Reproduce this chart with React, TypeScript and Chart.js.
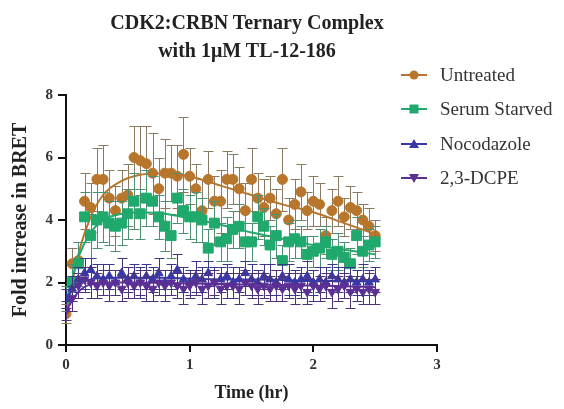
import React, { useEffect, useRef } from "react";
import { Chart, registerables } from "chart.js";

Chart.register(...registerables);

// ---------- data ----------
const timeHr = [
  0, 0.05, 0.1, 0.15, 0.2, 0.25, 0.3, 0.35, 0.4, 0.45,
  0.5, 0.55, 0.6, 0.65, 0.7, 0.75, 0.8, 0.85, 0.9, 0.95,
  1.0, 1.05, 1.1, 1.15, 1.2, 1.25, 1.3, 1.35, 1.4, 1.45,
  1.5, 1.55, 1.6, 1.65, 1.7, 1.75, 1.8, 1.85, 1.9, 1.95,
  2.0, 2.05, 2.1, 2.15, 2.2, 2.25, 2.3, 2.35, 2.4, 2.45, 2.5,
];

const untreated = [
  1.0, 2.6, 2.7, 4.6, 4.4, 5.3, 5.3, 4.7, 4.3, 4.7,
  4.8, 6.0, 5.9, 5.8, 5.5, 5.0, 5.5, 5.5, 5.4, 6.1,
  5.4, 5.0, 4.3, 5.3, 4.6, 4.6, 5.3, 5.3, 5.0, 4.3,
  5.3, 4.7, 4.4, 4.7, 4.2, 5.3, 4.0, 4.5, 4.9, 4.3,
  4.6, 4.5, 3.5, 4.3, 4.6, 4.1, 4.4, 4.3, 4.0, 3.8, 3.5,
];
const untreatedErr = [
  0.3, 0.5, 0.6, 0.9, 0.8, 1.0, 1.1, 0.9, 0.8, 0.9,
  1.0, 1.0, 1.1, 1.2, 1.3, 1.0, 1.1, 0.9, 1.0, 1.2,
  0.9, 0.8, 1.0, 0.9, 0.8, 1.0, 0.9, 0.8, 0.7, 0.9,
  1.0, 0.8, 0.9, 0.7, 0.8, 1.0, 0.7, 0.8, 0.9, 0.6,
  0.8, 0.7, 0.6, 0.7, 0.8, 0.6, 0.7, 0.6, 0.5, 0.6, 0.5,
];

const serumStarved = [
  1.5, 2.0, 2.6, 4.1, 3.5, 4.0, 4.1, 3.9, 3.8, 3.9,
  4.2, 4.6, 4.2, 4.7, 4.6, 4.1, 3.8, 3.5, 4.7, 4.3,
  4.1, 4.1, 4.0, 3.1, 3.9, 3.3, 3.4, 3.7, 3.8, 3.3,
  3.3, 4.1, 3.8, 3.2, 3.5, 2.7, 3.3, 3.4, 3.3, 2.9,
  3.0, 3.1, 3.3, 2.9, 3.0, 2.8, 2.6, 3.5, 3.0, 3.2, 3.3,
];
const serumStarvedErr = [
  0.4, 0.6, 0.7, 0.8, 0.7, 0.9, 0.8, 0.7, 0.8, 0.7,
  0.8, 0.9, 0.8, 0.9, 0.8, 0.7, 0.8, 0.7, 0.8, 0.7,
  0.7, 0.8, 0.7, 0.6, 0.7, 0.6, 0.7, 0.6, 0.7, 0.6,
  0.6, 0.7, 0.6, 0.6, 0.7, 0.5, 0.6, 0.6, 0.5, 0.6,
  0.5, 0.6, 0.5, 0.5, 0.6, 0.5, 0.5, 0.6, 0.5, 0.5, 0.5,
];

const nocodazole = [
  1.5, 1.8, 2.1, 2.3, 2.4, 2.2, 2.1, 2.2, 2.0, 2.3,
  2.1, 2.2, 2.0, 2.2, 2.1, 2.3, 2.0, 2.2, 2.4, 2.1,
  2.0, 2.2, 2.1, 2.3, 2.0, 2.1, 2.2, 2.0, 2.1, 2.3,
  2.1, 2.0, 2.2, 2.1, 2.0, 2.2, 2.1, 2.0, 2.1, 2.2,
  2.0, 2.1, 2.0, 2.2, 2.1, 2.0, 2.1, 2.0, 2.1, 2.0, 2.1,
];
const nocodazoleErr = [
  0.3, 0.4, 0.4, 0.5, 0.4, 0.4, 0.5, 0.4, 0.4, 0.5,
  0.4, 0.4, 0.5, 0.4, 0.4, 0.5, 0.4, 0.4, 0.5, 0.4,
  0.4, 0.5, 0.4, 0.4, 0.5, 0.4, 0.4, 0.5, 0.4, 0.4,
  0.5, 0.4, 0.4, 0.5, 0.4, 0.4, 0.5, 0.4, 0.4, 0.5,
  0.4, 0.4, 0.5, 0.4, 0.4, 0.5, 0.4, 0.4, 0.5, 0.4, 0.4,
];

const dcpe = [
  1.1, 1.5, 1.9, 2.1, 2.0, 1.9, 2.0, 1.9, 2.0, 1.8,
  2.0, 1.9, 2.0, 1.9, 1.8, 2.0, 1.9, 2.0, 1.9, 1.8,
  1.9, 2.0, 1.8, 1.9, 2.0, 1.8, 1.9, 1.9, 1.8, 2.0,
  1.9, 1.8, 1.9, 1.8, 1.9, 1.8, 1.9, 1.8, 1.9, 1.7,
  1.9, 1.8, 1.9, 1.7, 1.8, 1.9, 1.7, 1.8, 1.7, 1.8, 1.7,
];
const dcpeErr = [
  0.3, 0.4, 0.4, 0.4, 0.5, 0.4, 0.4, 0.5, 0.4, 0.4,
  0.5, 0.4, 0.4, 0.5, 0.4, 0.4, 0.5, 0.4, 0.4, 0.5,
  0.4, 0.4, 0.5, 0.4, 0.4, 0.5, 0.4, 0.4, 0.5, 0.4,
  0.4, 0.5, 0.4, 0.4, 0.5, 0.4, 0.4, 0.5, 0.4, 0.4,
  0.5, 0.4, 0.4, 0.5, 0.4, 0.4, 0.5, 0.4, 0.4, 0.5, 0.4,
];

// fitted curves (read at a few times)
const fitTime = [0, 0.1, 0.2, 0.3, 0.45, 0.6, 0.8, 1.0, 1.25, 1.5, 1.75, 2.0, 2.25, 2.5];
const untreatedFit = [1.0, 2.9, 4.1, 4.8, 5.25, 5.45, 5.5, 5.4, 5.1, 4.8, 4.5, 4.25, 3.9, 3.55];
const serumStarvedFit = [1.4, 2.8, 3.6, 4.0, 4.2, 4.25, 4.2, 4.05, 3.85, 3.6, 3.4, 3.2, 3.05, 2.9];
const nocodazoleFit = [1.5, 1.95, 2.1, 2.15, 2.15, 2.15, 2.15, 2.12, 2.1, 2.1, 2.08, 2.05, 2.05, 2.05];
const dcpeFit = [1.1, 1.7, 1.95, 2.0, 2.0, 2.0, 1.98, 1.97, 1.95, 1.93, 1.92, 1.9, 1.88, 1.85];

const seriesNames = ["Untreated", "Serum Starved", "Nocodazole", "2,3-DCPE"];
const seriesColors = ["#B8762C", "#1FA96C", "#3A37A6", "#5B2F94"];
const errorColors = ["#8a7a62", "#4d8f70", "#3b3888", "#4d3278"];

const yTicks = [0, 2, 4, 6, 8];
const xTicks = [0, 1, 2, 3];

const SERIF = '"Liberation Serif", "Times New Roman", serif';

const toXY = (xs: number[], ys: number[]) => xs.map((x, i) => ({ x, y: ys[i] }));

const errorBarPlugin = {
  id: "errorBars",
  beforeDatasetDraw(chart: any, args: any) {
    const ds = chart.data.datasets[args.index];
    const errs: number[] | undefined = ds.errors;
    if (!errs) return;
    const xs = chart.scales.x;
    const ys = chart.scales.y;
    const ctx = chart.ctx;
    ctx.save();
    ctx.strokeStyle = ds.errorColor;
    ctx.lineWidth = 1;
    ds.data.forEach((p: any, i: number) => {
      const e = errs[i];
      const px = Math.round(xs.getPixelForValue(p.x)) + 0.5;
      const top = Math.round(ys.getPixelForValue(p.y + e)) + 0.5;
      const bot = Math.round(ys.getPixelForValue(p.y - e)) + 0.5;
      ctx.beginPath();
      ctx.moveTo(px, top);
      ctx.lineTo(px, bot);
      ctx.moveTo(px - 5, top);
      ctx.lineTo(px + 5, top);
      ctx.moveTo(px - 5, bot);
      ctx.lineTo(px + 5, bot);
      ctx.stroke();
    });
    ctx.restore();
  },
};

function LegendMarker({ idx }: { idx: number }) {
  const c = seriesColors[idx];
  let shape: React.ReactNode = null;
  if (idx === 0) shape = <circle cx={14} cy={10} r={4.5} fill={c} />;
  else if (idx === 1) shape = <rect x={9.5} y={5.5} width={9} height={9} fill={c} />;
  else if (idx === 2) shape = <polygon points="14,5 19,14 9,14" fill={c} />;
  else shape = <polygon points="14,15 19,6 9,6" fill={c} />;
  return (
    <svg width={28} height={20} style={{ display: "block" }}>
      <line x1={1} y1={10} x2={27} y2={10} stroke={c} strokeWidth={2} />
      {shape}
    </svg>
  );
}

export default function App() {
  const ref = useRef<HTMLCanvasElement>(null);

  useEffect(() => {
    if (!ref.current) return;
    const pointStyles = ["circle", "rect", "triangle", "triangle"];
    const rotations = [0, 0, 0, 180];
    const radii = [5, 7, 5, 5];
    const values = [untreated, serumStarved, nocodazole, dcpe];
    const errs = [untreatedErr, serumStarvedErr, nocodazoleErr, dcpeErr];
    const fits = [untreatedFit, serumStarvedFit, nocodazoleFit, dcpeFit];
    const drawOrder = [4, 3, 2, 1]; // lower order drawn on top

    const datasets: any[] = [];
    for (let i = 0; i < 4; i++) {
      datasets.push({
        label: seriesNames[i],
        data: toXY(timeHr, values[i]),
        errors: errs[i],
        errorColor: errorColors[i],
        showLine: false,
        pointStyle: pointStyles[i],
        rotation: rotations[i],
        pointRadius: radii[i],
        pointBorderWidth: 1,
        backgroundColor: seriesColors[i],
        borderColor: seriesColors[i],
        order: drawOrder[i],
      });
      datasets.push({
        label: seriesNames[i] + " fit",
        data: toXY(fitTime, fits[i]),
        showLine: true,
        pointRadius: 0,
        borderColor: seriesColors[i],
        borderWidth: 2,
        tension: 0.4,
        cubicInterpolationMode: "monotone",
        fill: false,
        order: drawOrder[i] - 0.5,
      });
    }

    const chart = new Chart(ref.current, {
      type: "line",
      data: { datasets },
      plugins: [errorBarPlugin],
      options: {
        responsive: false,
        animation: false,
        layout: { padding: { top: 95, right: 127, left: 0, bottom: 0 } },
        plugins: {
          legend: { display: false },
          tooltip: { enabled: false },
          title: { display: false },
        },
        scales: {
          x: {
            type: "linear",
            min: 0,
            max: 3,
            afterBuildTicks: (s: any) => {
              s.ticks = xTicks.map((v) => ({ value: v }));
            },
            afterFit: (s: any) => {
              s.height = 64;
            },
            ticks: {
              color: "#333",
              font: { family: SERIF, size: 15, weight: "bold" },
              padding: 4,
            },
            grid: {
              display: true,
              drawOnChartArea: false,
              drawTicks: true,
              tickLength: 7,
              color: "#111",
              lineWidth: 2,
            },
            border: { display: true, color: "#111", width: 2 },
            title: {
              display: true,
              text: "Time (hr)",
              color: "#222",
              font: { family: SERIF, size: 18, weight: "bold" },
              padding: { top: 0, bottom: 5 },
            },
          },
          y: {
            type: "linear",
            min: 0,
            max: 8,
            afterBuildTicks: (s: any) => {
              s.ticks = yTicks.map((v) => ({ value: v }));
            },
            afterFit: (s: any) => {
              s.width = 66;
            },
            ticks: {
              color: "#333",
              font: { family: SERIF, size: 15, weight: "bold" },
              padding: 5,
            },
            grid: {
              display: true,
              drawOnChartArea: false,
              drawTicks: true,
              tickLength: 8,
              color: "#111",
              lineWidth: 2,
            },
            border: { display: true, color: "#111", width: 2 },
            title: {
              display: true,
              text: "Fold increase in BRET",
              color: "#222",
              font: { family: SERIF, size: 20, weight: "bold" },
              padding: { top: 9, bottom: 0 },
            },
          },
        },
      } as any,
    });
    return () => chart.destroy();
  }, []);

  const legendY = [75, 109, 144, 178];

  return (
    <div
      style={{
        position: "absolute",
        left: 0,
        top: 0,
        width: 564,
        height: 409,
        background: "#fff",
        fontFamily: SERIF,
      }}
    >
      <canvas
        ref={ref}
        width={564}
        height={409}
        style={{ position: "absolute", left: 0, top: 0, width: 564, height: 409 }}
      />
      <div
        style={{
          position: "absolute",
          left: 0,
          top: 8,
          width: 494,
          textAlign: "center",
          fontWeight: "bold",
          fontSize: 20,
          lineHeight: "28px",
          color: "#222",
        }}
      >
        <div>CDK2:CRBN Ternary Complex</div>
        <div>with 1μM TL-12-186</div>
      </div>
      {seriesNames.map((name, i) => (
        <div
          key={name}
          style={{
            position: "absolute",
            left: 400,
            top: legendY[i] - 12,
            height: 24,
            display: "flex",
            alignItems: "center",
            whiteSpace: "nowrap",
          }}
        >
          <LegendMarker idx={i} />
          <span style={{ marginLeft: 12, fontSize: 19, color: "#333" }}>{name}</span>
        </div>
      ))}
    </div>
  );
}
